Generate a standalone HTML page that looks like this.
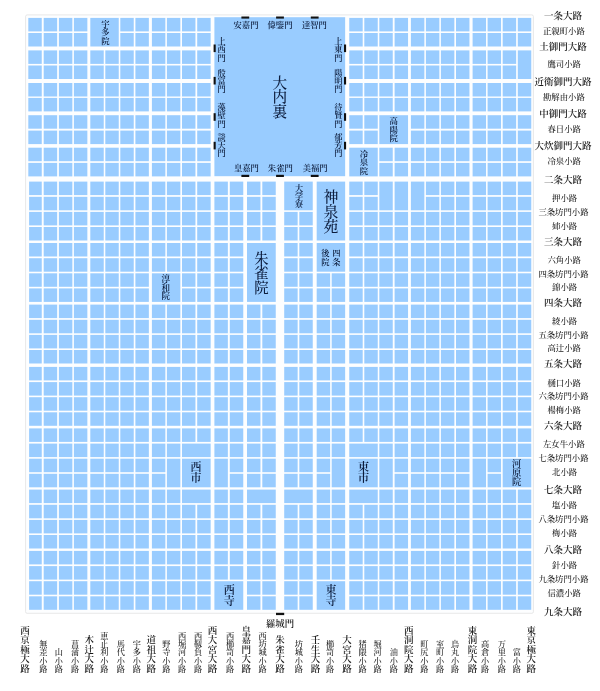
<!DOCTYPE html>
<html lang="ja">
<head>
<meta charset="utf-8">
<title>平安京</title>
<style>
html,body{margin:0;padding:0;background:#fff;}
body{width:600px;height:691px;overflow:hidden;}
svg{display:block;}
svg text{font-family:"Liberation Serif","Noto Serif CJK JP","Noto Serif CJK SC",serif;}
.w4{font-weight:400}.w5{font-weight:500}.w6{font-weight:600}
</style>
</head>
<body>
<svg width="600" height="691" viewBox="0 0 600 691" lang="ja">
<rect x="0" y="0" width="600" height="691" fill="#fff"/>
<rect x="25.6" y="14.9" width="507.8" height="598.4" rx="1.5" fill="#fdfeff" stroke="#dedede" stroke-width="0.7"/>
<g fill="#99ccff">
<rect x="214.40" y="17.20" width="130.75" height="159.00"/>
<rect x="90.30" y="17.90" width="28.45" height="28.60"/>
<rect x="379.30" y="115.20" width="28.75" height="28.90"/>
<rect x="349.25" y="147.70" width="28.50" height="28.70"/>
<rect x="517.80" y="50.40" width="13.45" height="28.60"/>
<rect x="284.20" y="181.60" width="28.55" height="28.70"/>
<rect x="316.70" y="181.60" width="28.45" height="58.90"/>
<rect x="379.30" y="181.60" width="13.45" height="28.70"/>
<rect x="394.60" y="181.60" width="13.45" height="28.70"/>
<rect x="410.90" y="181.60" width="13.45" height="28.70"/>
<rect x="316.70" y="243.00" width="28.45" height="28.70"/>
<rect x="247.00" y="243.00" width="28.75" height="58.90"/>
<rect x="151.90" y="273.30" width="28.45" height="28.60"/>
<rect x="182.00" y="458.70" width="28.65" height="28.60"/>
<rect x="182.00" y="443.60" width="28.65" height="13.50"/>
<rect x="182.00" y="489.60" width="28.65" height="13.50"/>
<rect x="166.90" y="458.70" width="13.45" height="28.60"/>
<rect x="214.40" y="458.70" width="13.45" height="28.60"/>
<rect x="349.25" y="458.70" width="28.50" height="28.60"/>
<rect x="349.25" y="443.60" width="28.50" height="13.50"/>
<rect x="349.25" y="489.60" width="28.50" height="13.50"/>
<rect x="331.70" y="458.70" width="13.45" height="28.60"/>
<rect x="379.30" y="458.70" width="13.45" height="28.60"/>
<rect x="472.60" y="458.70" width="13.45" height="28.60"/>
<rect x="502.70" y="458.70" width="28.55" height="28.60"/>
<rect x="247.00" y="489.60" width="28.75" height="13.50"/>
<rect x="284.20" y="489.60" width="28.55" height="13.50"/>
<rect x="214.40" y="581.20" width="28.85" height="28.60"/>
<rect x="316.70" y="581.20" width="28.45" height="28.60"/>
<rect x="28.30" y="17.90" width="13.45" height="13.50"/>
<rect x="28.30" y="33.00" width="13.45" height="13.50"/>
<rect x="28.30" y="50.40" width="13.45" height="13.50"/>
<rect x="28.30" y="65.50" width="13.45" height="13.50"/>
<rect x="28.30" y="83.00" width="13.45" height="13.50"/>
<rect x="28.30" y="97.90" width="13.45" height="13.50"/>
<rect x="28.30" y="115.20" width="13.45" height="13.50"/>
<rect x="28.30" y="130.60" width="13.45" height="13.50"/>
<rect x="28.30" y="147.70" width="13.45" height="13.50"/>
<rect x="28.30" y="162.90" width="13.45" height="13.50"/>
<rect x="29.10" y="181.60" width="12.65" height="13.50"/>
<rect x="29.10" y="196.80" width="12.65" height="13.50"/>
<rect x="29.10" y="211.90" width="12.65" height="13.50"/>
<rect x="29.10" y="227.00" width="12.65" height="13.50"/>
<rect x="29.10" y="243.00" width="12.65" height="13.50"/>
<rect x="29.10" y="258.20" width="12.65" height="13.50"/>
<rect x="29.10" y="273.30" width="12.65" height="13.50"/>
<rect x="29.10" y="288.40" width="12.65" height="13.50"/>
<rect x="29.10" y="304.60" width="12.65" height="13.50"/>
<rect x="29.10" y="319.80" width="12.65" height="13.50"/>
<rect x="29.10" y="334.90" width="12.65" height="13.50"/>
<rect x="29.10" y="350.00" width="12.65" height="13.50"/>
<rect x="29.10" y="366.90" width="12.65" height="13.50"/>
<rect x="29.10" y="382.10" width="12.65" height="13.50"/>
<rect x="29.10" y="397.20" width="12.65" height="13.50"/>
<rect x="29.10" y="412.30" width="12.65" height="13.50"/>
<rect x="29.10" y="428.40" width="12.65" height="13.50"/>
<rect x="29.10" y="443.60" width="12.65" height="13.50"/>
<rect x="29.10" y="458.70" width="12.65" height="13.50"/>
<rect x="29.10" y="473.80" width="12.65" height="13.50"/>
<rect x="29.10" y="489.60" width="12.65" height="13.50"/>
<rect x="29.10" y="504.80" width="12.65" height="13.50"/>
<rect x="29.10" y="519.90" width="12.65" height="13.50"/>
<rect x="29.10" y="535.00" width="12.65" height="13.50"/>
<rect x="29.10" y="550.90" width="12.65" height="13.50"/>
<rect x="29.10" y="566.10" width="12.65" height="13.50"/>
<rect x="29.10" y="581.20" width="12.65" height="13.50"/>
<rect x="29.10" y="596.30" width="12.65" height="13.50"/>
<rect x="43.70" y="17.90" width="13.45" height="13.50"/>
<rect x="43.70" y="33.00" width="13.45" height="13.50"/>
<rect x="43.70" y="50.40" width="13.45" height="13.50"/>
<rect x="43.70" y="65.50" width="13.45" height="13.50"/>
<rect x="43.70" y="83.00" width="13.45" height="13.50"/>
<rect x="43.70" y="97.90" width="13.45" height="13.50"/>
<rect x="43.70" y="115.20" width="13.45" height="13.50"/>
<rect x="43.70" y="130.60" width="13.45" height="13.50"/>
<rect x="43.70" y="147.70" width="13.45" height="13.50"/>
<rect x="43.70" y="162.90" width="13.45" height="13.50"/>
<rect x="43.70" y="181.60" width="13.45" height="13.50"/>
<rect x="43.70" y="196.80" width="13.45" height="13.50"/>
<rect x="43.70" y="211.90" width="13.45" height="13.50"/>
<rect x="43.70" y="227.00" width="13.45" height="13.50"/>
<rect x="43.70" y="243.00" width="13.45" height="13.50"/>
<rect x="43.70" y="258.20" width="13.45" height="13.50"/>
<rect x="43.70" y="273.30" width="13.45" height="13.50"/>
<rect x="43.70" y="288.40" width="13.45" height="13.50"/>
<rect x="43.70" y="304.60" width="13.45" height="13.50"/>
<rect x="43.70" y="319.80" width="13.45" height="13.50"/>
<rect x="43.70" y="334.90" width="13.45" height="13.50"/>
<rect x="43.70" y="350.00" width="13.45" height="13.50"/>
<rect x="43.70" y="366.90" width="13.45" height="13.50"/>
<rect x="43.70" y="382.10" width="13.45" height="13.50"/>
<rect x="43.70" y="397.20" width="13.45" height="13.50"/>
<rect x="43.70" y="412.30" width="13.45" height="13.50"/>
<rect x="43.70" y="428.40" width="13.45" height="13.50"/>
<rect x="43.70" y="443.60" width="13.45" height="13.50"/>
<rect x="43.70" y="458.70" width="13.45" height="13.50"/>
<rect x="43.70" y="473.80" width="13.45" height="13.50"/>
<rect x="43.70" y="489.60" width="13.45" height="13.50"/>
<rect x="43.70" y="504.80" width="13.45" height="13.50"/>
<rect x="43.70" y="519.90" width="13.45" height="13.50"/>
<rect x="43.70" y="535.00" width="13.45" height="13.50"/>
<rect x="43.70" y="550.90" width="13.45" height="13.50"/>
<rect x="43.70" y="566.10" width="13.45" height="13.50"/>
<rect x="43.70" y="581.20" width="13.45" height="13.50"/>
<rect x="43.70" y="596.30" width="13.45" height="13.50"/>
<rect x="58.90" y="17.90" width="13.45" height="13.50"/>
<rect x="58.90" y="33.00" width="13.45" height="13.50"/>
<rect x="58.90" y="50.40" width="13.45" height="13.50"/>
<rect x="58.90" y="65.50" width="13.45" height="13.50"/>
<rect x="58.90" y="83.00" width="13.45" height="13.50"/>
<rect x="58.90" y="97.90" width="13.45" height="13.50"/>
<rect x="58.90" y="115.20" width="13.45" height="13.50"/>
<rect x="58.90" y="130.60" width="13.45" height="13.50"/>
<rect x="58.90" y="147.70" width="13.45" height="13.50"/>
<rect x="58.90" y="162.90" width="13.45" height="13.50"/>
<rect x="58.90" y="181.60" width="13.45" height="13.50"/>
<rect x="58.90" y="196.80" width="13.45" height="13.50"/>
<rect x="58.90" y="211.90" width="13.45" height="13.50"/>
<rect x="58.90" y="227.00" width="13.45" height="13.50"/>
<rect x="58.90" y="243.00" width="13.45" height="13.50"/>
<rect x="58.90" y="258.20" width="13.45" height="13.50"/>
<rect x="58.90" y="273.30" width="13.45" height="13.50"/>
<rect x="58.90" y="288.40" width="13.45" height="13.50"/>
<rect x="58.90" y="304.60" width="13.45" height="13.50"/>
<rect x="58.90" y="319.80" width="13.45" height="13.50"/>
<rect x="58.90" y="334.90" width="13.45" height="13.50"/>
<rect x="58.90" y="350.00" width="13.45" height="13.50"/>
<rect x="58.90" y="366.90" width="13.45" height="13.50"/>
<rect x="58.90" y="382.10" width="13.45" height="13.50"/>
<rect x="58.90" y="397.20" width="13.45" height="13.50"/>
<rect x="58.90" y="412.30" width="13.45" height="13.50"/>
<rect x="58.90" y="428.40" width="13.45" height="13.50"/>
<rect x="58.90" y="443.60" width="13.45" height="13.50"/>
<rect x="58.90" y="458.70" width="13.45" height="13.50"/>
<rect x="58.90" y="473.80" width="13.45" height="13.50"/>
<rect x="58.90" y="489.60" width="13.45" height="13.50"/>
<rect x="58.90" y="504.80" width="13.45" height="13.50"/>
<rect x="58.90" y="519.90" width="13.45" height="13.50"/>
<rect x="58.90" y="535.00" width="13.45" height="13.50"/>
<rect x="58.90" y="550.90" width="13.45" height="13.50"/>
<rect x="58.90" y="566.10" width="13.45" height="13.50"/>
<rect x="58.90" y="581.20" width="13.45" height="13.50"/>
<rect x="58.90" y="596.30" width="13.45" height="13.50"/>
<rect x="73.90" y="17.90" width="13.45" height="13.50"/>
<rect x="73.90" y="33.00" width="13.45" height="13.50"/>
<rect x="73.90" y="50.40" width="13.45" height="13.50"/>
<rect x="73.90" y="65.50" width="13.45" height="13.50"/>
<rect x="73.90" y="83.00" width="13.45" height="13.50"/>
<rect x="73.90" y="97.90" width="13.45" height="13.50"/>
<rect x="73.90" y="115.20" width="13.45" height="13.50"/>
<rect x="73.90" y="130.60" width="13.45" height="13.50"/>
<rect x="73.90" y="147.70" width="13.45" height="13.50"/>
<rect x="73.90" y="162.90" width="13.45" height="13.50"/>
<rect x="73.90" y="181.60" width="13.45" height="13.50"/>
<rect x="73.90" y="196.80" width="13.45" height="13.50"/>
<rect x="73.90" y="211.90" width="13.45" height="13.50"/>
<rect x="73.90" y="227.00" width="13.45" height="13.50"/>
<rect x="73.90" y="243.00" width="13.45" height="13.50"/>
<rect x="73.90" y="258.20" width="13.45" height="13.50"/>
<rect x="73.90" y="273.30" width="13.45" height="13.50"/>
<rect x="73.90" y="288.40" width="13.45" height="13.50"/>
<rect x="73.90" y="304.60" width="13.45" height="13.50"/>
<rect x="73.90" y="319.80" width="13.45" height="13.50"/>
<rect x="73.90" y="334.90" width="13.45" height="13.50"/>
<rect x="73.90" y="350.00" width="13.45" height="13.50"/>
<rect x="73.90" y="366.90" width="13.45" height="13.50"/>
<rect x="73.90" y="382.10" width="13.45" height="13.50"/>
<rect x="73.90" y="397.20" width="13.45" height="13.50"/>
<rect x="73.90" y="412.30" width="13.45" height="13.50"/>
<rect x="73.90" y="428.40" width="13.45" height="13.50"/>
<rect x="73.90" y="443.60" width="13.45" height="13.50"/>
<rect x="73.90" y="458.70" width="13.45" height="13.50"/>
<rect x="73.90" y="473.80" width="13.45" height="13.50"/>
<rect x="73.90" y="489.60" width="13.45" height="13.50"/>
<rect x="73.90" y="504.80" width="13.45" height="13.50"/>
<rect x="73.90" y="519.90" width="13.45" height="13.50"/>
<rect x="73.90" y="535.00" width="13.45" height="13.50"/>
<rect x="73.90" y="550.90" width="13.45" height="13.50"/>
<rect x="73.90" y="566.10" width="13.45" height="13.50"/>
<rect x="73.90" y="581.20" width="13.45" height="13.50"/>
<rect x="73.90" y="596.30" width="13.45" height="13.50"/>
<rect x="90.30" y="50.40" width="13.45" height="13.50"/>
<rect x="90.30" y="65.50" width="13.45" height="13.50"/>
<rect x="90.30" y="83.00" width="13.45" height="13.50"/>
<rect x="90.30" y="97.90" width="13.45" height="13.50"/>
<rect x="90.30" y="115.20" width="13.45" height="13.50"/>
<rect x="90.30" y="130.60" width="13.45" height="13.50"/>
<rect x="90.30" y="147.70" width="13.45" height="13.50"/>
<rect x="90.30" y="162.90" width="13.45" height="13.50"/>
<rect x="90.30" y="181.60" width="13.45" height="13.50"/>
<rect x="90.30" y="196.80" width="13.45" height="13.50"/>
<rect x="90.30" y="211.90" width="13.45" height="13.50"/>
<rect x="90.30" y="227.00" width="13.45" height="13.50"/>
<rect x="90.30" y="243.00" width="13.45" height="13.50"/>
<rect x="90.30" y="258.20" width="13.45" height="13.50"/>
<rect x="90.30" y="273.30" width="13.45" height="13.50"/>
<rect x="90.30" y="288.40" width="13.45" height="13.50"/>
<rect x="90.30" y="304.60" width="13.45" height="13.50"/>
<rect x="90.30" y="319.80" width="13.45" height="13.50"/>
<rect x="90.30" y="334.90" width="13.45" height="13.50"/>
<rect x="90.30" y="350.00" width="13.45" height="13.50"/>
<rect x="90.30" y="366.90" width="13.45" height="13.50"/>
<rect x="90.30" y="382.10" width="13.45" height="13.50"/>
<rect x="90.30" y="397.20" width="13.45" height="13.50"/>
<rect x="90.30" y="412.30" width="13.45" height="13.50"/>
<rect x="90.30" y="428.40" width="13.45" height="13.50"/>
<rect x="90.30" y="443.60" width="13.45" height="13.50"/>
<rect x="90.30" y="458.70" width="13.45" height="13.50"/>
<rect x="90.30" y="473.80" width="13.45" height="13.50"/>
<rect x="90.30" y="489.60" width="13.45" height="13.50"/>
<rect x="90.30" y="504.80" width="13.45" height="13.50"/>
<rect x="90.30" y="519.90" width="13.45" height="13.50"/>
<rect x="90.30" y="535.00" width="13.45" height="13.50"/>
<rect x="90.30" y="550.90" width="13.45" height="13.50"/>
<rect x="90.30" y="566.10" width="13.45" height="13.50"/>
<rect x="90.30" y="581.20" width="13.45" height="13.50"/>
<rect x="90.30" y="596.30" width="13.45" height="13.50"/>
<rect x="105.30" y="50.40" width="13.45" height="13.50"/>
<rect x="105.30" y="65.50" width="13.45" height="13.50"/>
<rect x="105.30" y="83.00" width="13.45" height="13.50"/>
<rect x="105.30" y="97.90" width="13.45" height="13.50"/>
<rect x="105.30" y="115.20" width="13.45" height="13.50"/>
<rect x="105.30" y="130.60" width="13.45" height="13.50"/>
<rect x="105.30" y="147.70" width="13.45" height="13.50"/>
<rect x="105.30" y="162.90" width="13.45" height="13.50"/>
<rect x="105.30" y="181.60" width="13.45" height="13.50"/>
<rect x="105.30" y="196.80" width="13.45" height="13.50"/>
<rect x="105.30" y="211.90" width="13.45" height="13.50"/>
<rect x="105.30" y="227.00" width="13.45" height="13.50"/>
<rect x="105.30" y="243.00" width="13.45" height="13.50"/>
<rect x="105.30" y="258.20" width="13.45" height="13.50"/>
<rect x="105.30" y="273.30" width="13.45" height="13.50"/>
<rect x="105.30" y="288.40" width="13.45" height="13.50"/>
<rect x="105.30" y="304.60" width="13.45" height="13.50"/>
<rect x="105.30" y="319.80" width="13.45" height="13.50"/>
<rect x="105.30" y="334.90" width="13.45" height="13.50"/>
<rect x="105.30" y="350.00" width="13.45" height="13.50"/>
<rect x="105.30" y="366.90" width="13.45" height="13.50"/>
<rect x="105.30" y="382.10" width="13.45" height="13.50"/>
<rect x="105.30" y="397.20" width="13.45" height="13.50"/>
<rect x="105.30" y="412.30" width="13.45" height="13.50"/>
<rect x="105.30" y="428.40" width="13.45" height="13.50"/>
<rect x="105.30" y="443.60" width="13.45" height="13.50"/>
<rect x="105.30" y="458.70" width="13.45" height="13.50"/>
<rect x="105.30" y="473.80" width="13.45" height="13.50"/>
<rect x="105.30" y="489.60" width="13.45" height="13.50"/>
<rect x="105.30" y="504.80" width="13.45" height="13.50"/>
<rect x="105.30" y="519.90" width="13.45" height="13.50"/>
<rect x="105.30" y="535.00" width="13.45" height="13.50"/>
<rect x="105.30" y="550.90" width="13.45" height="13.50"/>
<rect x="105.30" y="566.10" width="13.45" height="13.50"/>
<rect x="105.30" y="581.20" width="13.45" height="13.50"/>
<rect x="105.30" y="596.30" width="13.45" height="13.50"/>
<rect x="120.30" y="17.90" width="13.45" height="13.50"/>
<rect x="120.30" y="33.00" width="13.45" height="13.50"/>
<rect x="120.30" y="50.40" width="13.45" height="13.50"/>
<rect x="120.30" y="65.50" width="13.45" height="13.50"/>
<rect x="120.30" y="83.00" width="13.45" height="13.50"/>
<rect x="120.30" y="97.90" width="13.45" height="13.50"/>
<rect x="120.30" y="115.20" width="13.45" height="13.50"/>
<rect x="120.30" y="130.60" width="13.45" height="13.50"/>
<rect x="120.30" y="147.70" width="13.45" height="13.50"/>
<rect x="120.30" y="162.90" width="13.45" height="13.50"/>
<rect x="120.30" y="181.60" width="13.45" height="13.50"/>
<rect x="120.30" y="196.80" width="13.45" height="13.50"/>
<rect x="120.30" y="211.90" width="13.45" height="13.50"/>
<rect x="120.30" y="227.00" width="13.45" height="13.50"/>
<rect x="120.30" y="243.00" width="13.45" height="13.50"/>
<rect x="120.30" y="258.20" width="13.45" height="13.50"/>
<rect x="120.30" y="273.30" width="13.45" height="13.50"/>
<rect x="120.30" y="288.40" width="13.45" height="13.50"/>
<rect x="120.30" y="304.60" width="13.45" height="13.50"/>
<rect x="120.30" y="319.80" width="13.45" height="13.50"/>
<rect x="120.30" y="334.90" width="13.45" height="13.50"/>
<rect x="120.30" y="350.00" width="13.45" height="13.50"/>
<rect x="120.30" y="366.90" width="13.45" height="13.50"/>
<rect x="120.30" y="382.10" width="13.45" height="13.50"/>
<rect x="120.30" y="397.20" width="13.45" height="13.50"/>
<rect x="120.30" y="412.30" width="13.45" height="13.50"/>
<rect x="120.30" y="428.40" width="13.45" height="13.50"/>
<rect x="120.30" y="443.60" width="13.45" height="13.50"/>
<rect x="120.30" y="458.70" width="13.45" height="13.50"/>
<rect x="120.30" y="473.80" width="13.45" height="13.50"/>
<rect x="120.30" y="489.60" width="13.45" height="13.50"/>
<rect x="120.30" y="504.80" width="13.45" height="13.50"/>
<rect x="120.30" y="519.90" width="13.45" height="13.50"/>
<rect x="120.30" y="535.00" width="13.45" height="13.50"/>
<rect x="120.30" y="550.90" width="13.45" height="13.50"/>
<rect x="120.30" y="566.10" width="13.45" height="13.50"/>
<rect x="120.30" y="581.20" width="13.45" height="13.50"/>
<rect x="120.30" y="596.30" width="13.45" height="13.50"/>
<rect x="135.40" y="17.90" width="13.45" height="13.50"/>
<rect x="135.40" y="33.00" width="13.45" height="13.50"/>
<rect x="135.40" y="50.40" width="13.45" height="13.50"/>
<rect x="135.40" y="65.50" width="13.45" height="13.50"/>
<rect x="135.40" y="83.00" width="13.45" height="13.50"/>
<rect x="135.40" y="97.90" width="13.45" height="13.50"/>
<rect x="135.40" y="115.20" width="13.45" height="13.50"/>
<rect x="135.40" y="130.60" width="13.45" height="13.50"/>
<rect x="135.40" y="147.70" width="13.45" height="13.50"/>
<rect x="135.40" y="162.90" width="13.45" height="13.50"/>
<rect x="135.40" y="181.60" width="13.45" height="13.50"/>
<rect x="135.40" y="196.80" width="13.45" height="13.50"/>
<rect x="135.40" y="211.90" width="13.45" height="13.50"/>
<rect x="135.40" y="227.00" width="13.45" height="13.50"/>
<rect x="135.40" y="243.00" width="13.45" height="13.50"/>
<rect x="135.40" y="258.20" width="13.45" height="13.50"/>
<rect x="135.40" y="273.30" width="13.45" height="13.50"/>
<rect x="135.40" y="288.40" width="13.45" height="13.50"/>
<rect x="135.40" y="304.60" width="13.45" height="13.50"/>
<rect x="135.40" y="319.80" width="13.45" height="13.50"/>
<rect x="135.40" y="334.90" width="13.45" height="13.50"/>
<rect x="135.40" y="350.00" width="13.45" height="13.50"/>
<rect x="135.40" y="366.90" width="13.45" height="13.50"/>
<rect x="135.40" y="382.10" width="13.45" height="13.50"/>
<rect x="135.40" y="397.20" width="13.45" height="13.50"/>
<rect x="135.40" y="412.30" width="13.45" height="13.50"/>
<rect x="135.40" y="428.40" width="13.45" height="13.50"/>
<rect x="135.40" y="443.60" width="13.45" height="13.50"/>
<rect x="135.40" y="458.70" width="13.45" height="13.50"/>
<rect x="135.40" y="473.80" width="13.45" height="13.50"/>
<rect x="135.40" y="489.60" width="13.45" height="13.50"/>
<rect x="135.40" y="504.80" width="13.45" height="13.50"/>
<rect x="135.40" y="519.90" width="13.45" height="13.50"/>
<rect x="135.40" y="535.00" width="13.45" height="13.50"/>
<rect x="135.40" y="550.90" width="13.45" height="13.50"/>
<rect x="135.40" y="566.10" width="13.45" height="13.50"/>
<rect x="135.40" y="581.20" width="13.45" height="13.50"/>
<rect x="135.40" y="596.30" width="13.45" height="13.50"/>
<rect x="151.90" y="17.90" width="13.45" height="13.50"/>
<rect x="151.90" y="33.00" width="13.45" height="13.50"/>
<rect x="151.90" y="50.40" width="13.45" height="13.50"/>
<rect x="151.90" y="65.50" width="13.45" height="13.50"/>
<rect x="151.90" y="83.00" width="13.45" height="13.50"/>
<rect x="151.90" y="97.90" width="13.45" height="13.50"/>
<rect x="151.90" y="115.20" width="13.45" height="13.50"/>
<rect x="151.90" y="130.60" width="13.45" height="13.50"/>
<rect x="151.90" y="147.70" width="13.45" height="13.50"/>
<rect x="151.90" y="162.90" width="13.45" height="13.50"/>
<rect x="151.90" y="181.60" width="13.45" height="13.50"/>
<rect x="151.90" y="196.80" width="13.45" height="13.50"/>
<rect x="151.90" y="211.90" width="13.45" height="13.50"/>
<rect x="151.90" y="227.00" width="13.45" height="13.50"/>
<rect x="151.90" y="243.00" width="13.45" height="13.50"/>
<rect x="151.90" y="258.20" width="13.45" height="13.50"/>
<rect x="151.90" y="304.60" width="13.45" height="13.50"/>
<rect x="151.90" y="319.80" width="13.45" height="13.50"/>
<rect x="151.90" y="334.90" width="13.45" height="13.50"/>
<rect x="151.90" y="350.00" width="13.45" height="13.50"/>
<rect x="151.90" y="366.90" width="13.45" height="13.50"/>
<rect x="151.90" y="382.10" width="13.45" height="13.50"/>
<rect x="151.90" y="397.20" width="13.45" height="13.50"/>
<rect x="151.90" y="412.30" width="13.45" height="13.50"/>
<rect x="151.90" y="428.40" width="13.45" height="13.50"/>
<rect x="151.90" y="443.60" width="13.45" height="13.50"/>
<rect x="151.90" y="458.70" width="13.45" height="13.50"/>
<rect x="151.90" y="473.80" width="13.45" height="13.50"/>
<rect x="151.90" y="489.60" width="13.45" height="13.50"/>
<rect x="151.90" y="504.80" width="13.45" height="13.50"/>
<rect x="151.90" y="519.90" width="13.45" height="13.50"/>
<rect x="151.90" y="535.00" width="13.45" height="13.50"/>
<rect x="151.90" y="550.90" width="13.45" height="13.50"/>
<rect x="151.90" y="566.10" width="13.45" height="13.50"/>
<rect x="151.90" y="581.20" width="13.45" height="13.50"/>
<rect x="151.90" y="596.30" width="13.45" height="13.50"/>
<rect x="166.90" y="17.90" width="13.45" height="13.50"/>
<rect x="166.90" y="33.00" width="13.45" height="13.50"/>
<rect x="166.90" y="50.40" width="13.45" height="13.50"/>
<rect x="166.90" y="65.50" width="13.45" height="13.50"/>
<rect x="166.90" y="83.00" width="13.45" height="13.50"/>
<rect x="166.90" y="97.90" width="13.45" height="13.50"/>
<rect x="166.90" y="115.20" width="13.45" height="13.50"/>
<rect x="166.90" y="130.60" width="13.45" height="13.50"/>
<rect x="166.90" y="147.70" width="13.45" height="13.50"/>
<rect x="166.90" y="162.90" width="13.45" height="13.50"/>
<rect x="166.90" y="181.60" width="13.45" height="13.50"/>
<rect x="166.90" y="196.80" width="13.45" height="13.50"/>
<rect x="166.90" y="211.90" width="13.45" height="13.50"/>
<rect x="166.90" y="227.00" width="13.45" height="13.50"/>
<rect x="166.90" y="243.00" width="13.45" height="13.50"/>
<rect x="166.90" y="258.20" width="13.45" height="13.50"/>
<rect x="166.90" y="304.60" width="13.45" height="13.50"/>
<rect x="166.90" y="319.80" width="13.45" height="13.50"/>
<rect x="166.90" y="334.90" width="13.45" height="13.50"/>
<rect x="166.90" y="350.00" width="13.45" height="13.50"/>
<rect x="166.90" y="366.90" width="13.45" height="13.50"/>
<rect x="166.90" y="382.10" width="13.45" height="13.50"/>
<rect x="166.90" y="397.20" width="13.45" height="13.50"/>
<rect x="166.90" y="412.30" width="13.45" height="13.50"/>
<rect x="166.90" y="428.40" width="13.45" height="13.50"/>
<rect x="166.90" y="443.60" width="13.45" height="13.50"/>
<rect x="166.90" y="489.60" width="13.45" height="13.50"/>
<rect x="166.90" y="504.80" width="13.45" height="13.50"/>
<rect x="166.90" y="519.90" width="13.45" height="13.50"/>
<rect x="166.90" y="535.00" width="13.45" height="13.50"/>
<rect x="166.90" y="550.90" width="13.45" height="13.50"/>
<rect x="166.90" y="566.10" width="13.45" height="13.50"/>
<rect x="166.90" y="581.20" width="13.45" height="13.50"/>
<rect x="166.90" y="596.30" width="13.45" height="13.50"/>
<rect x="182.00" y="17.90" width="13.45" height="13.50"/>
<rect x="182.00" y="33.00" width="13.45" height="13.50"/>
<rect x="182.00" y="50.40" width="13.45" height="13.50"/>
<rect x="182.00" y="65.50" width="13.45" height="13.50"/>
<rect x="182.00" y="83.00" width="13.45" height="13.50"/>
<rect x="182.00" y="97.90" width="13.45" height="13.50"/>
<rect x="182.00" y="115.20" width="13.45" height="13.50"/>
<rect x="182.00" y="130.60" width="13.45" height="13.50"/>
<rect x="182.00" y="147.70" width="13.45" height="13.50"/>
<rect x="182.00" y="162.90" width="13.45" height="13.50"/>
<rect x="182.00" y="181.60" width="13.45" height="13.50"/>
<rect x="182.00" y="196.80" width="13.45" height="13.50"/>
<rect x="182.00" y="211.90" width="13.45" height="13.50"/>
<rect x="182.00" y="227.00" width="13.45" height="13.50"/>
<rect x="182.00" y="243.00" width="13.45" height="13.50"/>
<rect x="182.00" y="258.20" width="13.45" height="13.50"/>
<rect x="182.00" y="273.30" width="13.45" height="13.50"/>
<rect x="182.00" y="288.40" width="13.45" height="13.50"/>
<rect x="182.00" y="304.60" width="13.45" height="13.50"/>
<rect x="182.00" y="319.80" width="13.45" height="13.50"/>
<rect x="182.00" y="334.90" width="13.45" height="13.50"/>
<rect x="182.00" y="350.00" width="13.45" height="13.50"/>
<rect x="182.00" y="366.90" width="13.45" height="13.50"/>
<rect x="182.00" y="382.10" width="13.45" height="13.50"/>
<rect x="182.00" y="397.20" width="13.45" height="13.50"/>
<rect x="182.00" y="412.30" width="13.45" height="13.50"/>
<rect x="182.00" y="428.40" width="13.45" height="13.50"/>
<rect x="182.00" y="504.80" width="13.45" height="13.50"/>
<rect x="182.00" y="519.90" width="13.45" height="13.50"/>
<rect x="182.00" y="535.00" width="13.45" height="13.50"/>
<rect x="182.00" y="550.90" width="13.45" height="13.50"/>
<rect x="182.00" y="566.10" width="13.45" height="13.50"/>
<rect x="182.00" y="581.20" width="13.45" height="13.50"/>
<rect x="182.00" y="596.30" width="13.45" height="13.50"/>
<rect x="197.20" y="17.90" width="13.45" height="13.50"/>
<rect x="197.20" y="33.00" width="13.45" height="13.50"/>
<rect x="197.20" y="50.40" width="13.45" height="13.50"/>
<rect x="197.20" y="65.50" width="13.45" height="13.50"/>
<rect x="197.20" y="83.00" width="13.45" height="13.50"/>
<rect x="197.20" y="97.90" width="13.45" height="13.50"/>
<rect x="197.20" y="115.20" width="13.45" height="13.50"/>
<rect x="197.20" y="130.60" width="13.45" height="13.50"/>
<rect x="197.20" y="147.70" width="13.45" height="13.50"/>
<rect x="197.20" y="162.90" width="13.45" height="13.50"/>
<rect x="197.20" y="181.60" width="13.45" height="13.50"/>
<rect x="197.20" y="196.80" width="13.45" height="13.50"/>
<rect x="197.20" y="211.90" width="13.45" height="13.50"/>
<rect x="197.20" y="227.00" width="13.45" height="13.50"/>
<rect x="197.20" y="243.00" width="13.45" height="13.50"/>
<rect x="197.20" y="258.20" width="13.45" height="13.50"/>
<rect x="197.20" y="273.30" width="13.45" height="13.50"/>
<rect x="197.20" y="288.40" width="13.45" height="13.50"/>
<rect x="197.20" y="304.60" width="13.45" height="13.50"/>
<rect x="197.20" y="319.80" width="13.45" height="13.50"/>
<rect x="197.20" y="334.90" width="13.45" height="13.50"/>
<rect x="197.20" y="350.00" width="13.45" height="13.50"/>
<rect x="197.20" y="366.90" width="13.45" height="13.50"/>
<rect x="197.20" y="382.10" width="13.45" height="13.50"/>
<rect x="197.20" y="397.20" width="13.45" height="13.50"/>
<rect x="197.20" y="412.30" width="13.45" height="13.50"/>
<rect x="197.20" y="428.40" width="13.45" height="13.50"/>
<rect x="197.20" y="504.80" width="13.45" height="13.50"/>
<rect x="197.20" y="519.90" width="13.45" height="13.50"/>
<rect x="197.20" y="535.00" width="13.45" height="13.50"/>
<rect x="197.20" y="550.90" width="13.45" height="13.50"/>
<rect x="197.20" y="566.10" width="13.45" height="13.50"/>
<rect x="197.20" y="581.20" width="13.45" height="13.50"/>
<rect x="197.20" y="596.30" width="13.45" height="13.50"/>
<rect x="214.40" y="181.60" width="13.45" height="13.50"/>
<rect x="214.40" y="196.80" width="13.45" height="13.50"/>
<rect x="214.40" y="211.90" width="13.45" height="13.50"/>
<rect x="214.40" y="227.00" width="13.45" height="13.50"/>
<rect x="214.40" y="243.00" width="13.45" height="13.50"/>
<rect x="214.40" y="258.20" width="13.45" height="13.50"/>
<rect x="214.40" y="273.30" width="13.45" height="13.50"/>
<rect x="214.40" y="288.40" width="13.45" height="13.50"/>
<rect x="214.40" y="304.60" width="13.45" height="13.50"/>
<rect x="214.40" y="319.80" width="13.45" height="13.50"/>
<rect x="214.40" y="334.90" width="13.45" height="13.50"/>
<rect x="214.40" y="350.00" width="13.45" height="13.50"/>
<rect x="214.40" y="366.90" width="13.45" height="13.50"/>
<rect x="214.40" y="382.10" width="13.45" height="13.50"/>
<rect x="214.40" y="397.20" width="13.45" height="13.50"/>
<rect x="214.40" y="412.30" width="13.45" height="13.50"/>
<rect x="214.40" y="428.40" width="13.45" height="13.50"/>
<rect x="214.40" y="443.60" width="13.45" height="13.50"/>
<rect x="214.40" y="489.60" width="13.45" height="13.50"/>
<rect x="214.40" y="504.80" width="13.45" height="13.50"/>
<rect x="214.40" y="519.90" width="13.45" height="13.50"/>
<rect x="214.40" y="535.00" width="13.45" height="13.50"/>
<rect x="214.40" y="550.90" width="13.45" height="13.50"/>
<rect x="214.40" y="566.10" width="13.45" height="13.50"/>
<rect x="229.80" y="181.60" width="13.45" height="13.50"/>
<rect x="229.80" y="196.80" width="13.45" height="13.50"/>
<rect x="229.80" y="211.90" width="13.45" height="13.50"/>
<rect x="229.80" y="227.00" width="13.45" height="13.50"/>
<rect x="229.80" y="243.00" width="13.45" height="13.50"/>
<rect x="229.80" y="258.20" width="13.45" height="13.50"/>
<rect x="229.80" y="273.30" width="13.45" height="13.50"/>
<rect x="229.80" y="288.40" width="13.45" height="13.50"/>
<rect x="229.80" y="304.60" width="13.45" height="13.50"/>
<rect x="229.80" y="319.80" width="13.45" height="13.50"/>
<rect x="229.80" y="334.90" width="13.45" height="13.50"/>
<rect x="229.80" y="350.00" width="13.45" height="13.50"/>
<rect x="229.80" y="366.90" width="13.45" height="13.50"/>
<rect x="229.80" y="382.10" width="13.45" height="13.50"/>
<rect x="229.80" y="397.20" width="13.45" height="13.50"/>
<rect x="229.80" y="412.30" width="13.45" height="13.50"/>
<rect x="229.80" y="428.40" width="13.45" height="13.50"/>
<rect x="229.80" y="443.60" width="13.45" height="13.50"/>
<rect x="229.80" y="458.70" width="13.45" height="13.50"/>
<rect x="229.80" y="473.80" width="13.45" height="13.50"/>
<rect x="229.80" y="489.60" width="13.45" height="13.50"/>
<rect x="229.80" y="504.80" width="13.45" height="13.50"/>
<rect x="229.80" y="519.90" width="13.45" height="13.50"/>
<rect x="229.80" y="535.00" width="13.45" height="13.50"/>
<rect x="229.80" y="550.90" width="13.45" height="13.50"/>
<rect x="229.80" y="566.10" width="13.45" height="13.50"/>
<rect x="247.00" y="181.60" width="13.45" height="13.50"/>
<rect x="247.00" y="196.80" width="13.45" height="13.50"/>
<rect x="247.00" y="211.90" width="13.45" height="13.50"/>
<rect x="247.00" y="227.00" width="13.45" height="13.50"/>
<rect x="247.00" y="304.60" width="13.45" height="13.50"/>
<rect x="247.00" y="319.80" width="13.45" height="13.50"/>
<rect x="247.00" y="334.90" width="13.45" height="13.50"/>
<rect x="247.00" y="350.00" width="13.45" height="13.50"/>
<rect x="247.00" y="366.90" width="13.45" height="13.50"/>
<rect x="247.00" y="382.10" width="13.45" height="13.50"/>
<rect x="247.00" y="397.20" width="13.45" height="13.50"/>
<rect x="247.00" y="412.30" width="13.45" height="13.50"/>
<rect x="247.00" y="428.40" width="13.45" height="13.50"/>
<rect x="247.00" y="443.60" width="13.45" height="13.50"/>
<rect x="247.00" y="458.70" width="13.45" height="13.50"/>
<rect x="247.00" y="473.80" width="13.45" height="13.50"/>
<rect x="247.00" y="504.80" width="13.45" height="13.50"/>
<rect x="247.00" y="519.90" width="13.45" height="13.50"/>
<rect x="247.00" y="535.00" width="13.45" height="13.50"/>
<rect x="247.00" y="550.90" width="13.45" height="13.50"/>
<rect x="247.00" y="566.10" width="13.45" height="13.50"/>
<rect x="247.00" y="581.20" width="13.45" height="13.50"/>
<rect x="247.00" y="596.30" width="13.45" height="13.50"/>
<rect x="262.30" y="181.60" width="13.45" height="13.50"/>
<rect x="262.30" y="196.80" width="13.45" height="13.50"/>
<rect x="262.30" y="211.90" width="13.45" height="13.50"/>
<rect x="262.30" y="227.00" width="13.45" height="13.50"/>
<rect x="262.30" y="304.60" width="13.45" height="13.50"/>
<rect x="262.30" y="319.80" width="13.45" height="13.50"/>
<rect x="262.30" y="334.90" width="13.45" height="13.50"/>
<rect x="262.30" y="350.00" width="13.45" height="13.50"/>
<rect x="262.30" y="366.90" width="13.45" height="13.50"/>
<rect x="262.30" y="382.10" width="13.45" height="13.50"/>
<rect x="262.30" y="397.20" width="13.45" height="13.50"/>
<rect x="262.30" y="412.30" width="13.45" height="13.50"/>
<rect x="262.30" y="428.40" width="13.45" height="13.50"/>
<rect x="262.30" y="443.60" width="13.45" height="13.50"/>
<rect x="262.30" y="458.70" width="13.45" height="13.50"/>
<rect x="262.30" y="473.80" width="13.45" height="13.50"/>
<rect x="262.30" y="504.80" width="13.45" height="13.50"/>
<rect x="262.30" y="519.90" width="13.45" height="13.50"/>
<rect x="262.30" y="535.00" width="13.45" height="13.50"/>
<rect x="262.30" y="550.90" width="13.45" height="13.50"/>
<rect x="262.30" y="566.10" width="13.45" height="13.50"/>
<rect x="262.30" y="581.20" width="13.45" height="13.50"/>
<rect x="262.30" y="596.30" width="13.45" height="13.50"/>
<rect x="284.20" y="211.90" width="13.45" height="13.50"/>
<rect x="284.20" y="227.00" width="13.45" height="13.50"/>
<rect x="284.20" y="243.00" width="13.45" height="13.50"/>
<rect x="284.20" y="258.20" width="13.45" height="13.50"/>
<rect x="284.20" y="273.30" width="13.45" height="13.50"/>
<rect x="284.20" y="288.40" width="13.45" height="13.50"/>
<rect x="284.20" y="304.60" width="13.45" height="13.50"/>
<rect x="284.20" y="319.80" width="13.45" height="13.50"/>
<rect x="284.20" y="334.90" width="13.45" height="13.50"/>
<rect x="284.20" y="350.00" width="13.45" height="13.50"/>
<rect x="284.20" y="366.90" width="13.45" height="13.50"/>
<rect x="284.20" y="382.10" width="13.45" height="13.50"/>
<rect x="284.20" y="397.20" width="13.45" height="13.50"/>
<rect x="284.20" y="412.30" width="13.45" height="13.50"/>
<rect x="284.20" y="428.40" width="13.45" height="13.50"/>
<rect x="284.20" y="443.60" width="13.45" height="13.50"/>
<rect x="284.20" y="458.70" width="13.45" height="13.50"/>
<rect x="284.20" y="473.80" width="13.45" height="13.50"/>
<rect x="284.20" y="504.80" width="13.45" height="13.50"/>
<rect x="284.20" y="519.90" width="13.45" height="13.50"/>
<rect x="284.20" y="535.00" width="13.45" height="13.50"/>
<rect x="284.20" y="550.90" width="13.45" height="13.50"/>
<rect x="284.20" y="566.10" width="13.45" height="13.50"/>
<rect x="284.20" y="581.20" width="13.45" height="13.50"/>
<rect x="284.20" y="596.30" width="13.45" height="13.50"/>
<rect x="299.30" y="211.90" width="13.45" height="13.50"/>
<rect x="299.30" y="227.00" width="13.45" height="13.50"/>
<rect x="299.30" y="243.00" width="13.45" height="13.50"/>
<rect x="299.30" y="258.20" width="13.45" height="13.50"/>
<rect x="299.30" y="273.30" width="13.45" height="13.50"/>
<rect x="299.30" y="288.40" width="13.45" height="13.50"/>
<rect x="299.30" y="304.60" width="13.45" height="13.50"/>
<rect x="299.30" y="319.80" width="13.45" height="13.50"/>
<rect x="299.30" y="334.90" width="13.45" height="13.50"/>
<rect x="299.30" y="350.00" width="13.45" height="13.50"/>
<rect x="299.30" y="366.90" width="13.45" height="13.50"/>
<rect x="299.30" y="382.10" width="13.45" height="13.50"/>
<rect x="299.30" y="397.20" width="13.45" height="13.50"/>
<rect x="299.30" y="412.30" width="13.45" height="13.50"/>
<rect x="299.30" y="428.40" width="13.45" height="13.50"/>
<rect x="299.30" y="443.60" width="13.45" height="13.50"/>
<rect x="299.30" y="458.70" width="13.45" height="13.50"/>
<rect x="299.30" y="473.80" width="13.45" height="13.50"/>
<rect x="299.30" y="504.80" width="13.45" height="13.50"/>
<rect x="299.30" y="519.90" width="13.45" height="13.50"/>
<rect x="299.30" y="535.00" width="13.45" height="13.50"/>
<rect x="299.30" y="550.90" width="13.45" height="13.50"/>
<rect x="299.30" y="566.10" width="13.45" height="13.50"/>
<rect x="299.30" y="581.20" width="13.45" height="13.50"/>
<rect x="299.30" y="596.30" width="13.45" height="13.50"/>
<rect x="316.70" y="273.30" width="13.45" height="13.50"/>
<rect x="316.70" y="288.40" width="13.45" height="13.50"/>
<rect x="316.70" y="304.60" width="13.45" height="13.50"/>
<rect x="316.70" y="319.80" width="13.45" height="13.50"/>
<rect x="316.70" y="334.90" width="13.45" height="13.50"/>
<rect x="316.70" y="350.00" width="13.45" height="13.50"/>
<rect x="316.70" y="366.90" width="13.45" height="13.50"/>
<rect x="316.70" y="382.10" width="13.45" height="13.50"/>
<rect x="316.70" y="397.20" width="13.45" height="13.50"/>
<rect x="316.70" y="412.30" width="13.45" height="13.50"/>
<rect x="316.70" y="428.40" width="13.45" height="13.50"/>
<rect x="316.70" y="443.60" width="13.45" height="13.50"/>
<rect x="316.70" y="458.70" width="13.45" height="13.50"/>
<rect x="316.70" y="473.80" width="13.45" height="13.50"/>
<rect x="316.70" y="489.60" width="13.45" height="13.50"/>
<rect x="316.70" y="504.80" width="13.45" height="13.50"/>
<rect x="316.70" y="519.90" width="13.45" height="13.50"/>
<rect x="316.70" y="535.00" width="13.45" height="13.50"/>
<rect x="316.70" y="550.90" width="13.45" height="13.50"/>
<rect x="316.70" y="566.10" width="13.45" height="13.50"/>
<rect x="331.70" y="273.30" width="13.45" height="13.50"/>
<rect x="331.70" y="288.40" width="13.45" height="13.50"/>
<rect x="331.70" y="304.60" width="13.45" height="13.50"/>
<rect x="331.70" y="319.80" width="13.45" height="13.50"/>
<rect x="331.70" y="334.90" width="13.45" height="13.50"/>
<rect x="331.70" y="350.00" width="13.45" height="13.50"/>
<rect x="331.70" y="366.90" width="13.45" height="13.50"/>
<rect x="331.70" y="382.10" width="13.45" height="13.50"/>
<rect x="331.70" y="397.20" width="13.45" height="13.50"/>
<rect x="331.70" y="412.30" width="13.45" height="13.50"/>
<rect x="331.70" y="428.40" width="13.45" height="13.50"/>
<rect x="331.70" y="443.60" width="13.45" height="13.50"/>
<rect x="331.70" y="489.60" width="13.45" height="13.50"/>
<rect x="331.70" y="504.80" width="13.45" height="13.50"/>
<rect x="331.70" y="519.90" width="13.45" height="13.50"/>
<rect x="331.70" y="535.00" width="13.45" height="13.50"/>
<rect x="331.70" y="550.90" width="13.45" height="13.50"/>
<rect x="331.70" y="566.10" width="13.45" height="13.50"/>
<rect x="349.25" y="17.90" width="13.45" height="13.50"/>
<rect x="349.25" y="33.00" width="13.45" height="13.50"/>
<rect x="349.25" y="50.40" width="13.45" height="13.50"/>
<rect x="349.25" y="65.50" width="13.45" height="13.50"/>
<rect x="349.25" y="83.00" width="13.45" height="13.50"/>
<rect x="349.25" y="97.90" width="13.45" height="13.50"/>
<rect x="349.25" y="115.20" width="13.45" height="13.50"/>
<rect x="349.25" y="130.60" width="13.45" height="13.50"/>
<rect x="349.25" y="181.60" width="13.45" height="13.50"/>
<rect x="349.25" y="196.80" width="13.45" height="13.50"/>
<rect x="349.25" y="211.90" width="13.45" height="13.50"/>
<rect x="349.25" y="227.00" width="13.45" height="13.50"/>
<rect x="349.25" y="243.00" width="13.45" height="13.50"/>
<rect x="349.25" y="258.20" width="13.45" height="13.50"/>
<rect x="349.25" y="273.30" width="13.45" height="13.50"/>
<rect x="349.25" y="288.40" width="13.45" height="13.50"/>
<rect x="349.25" y="304.60" width="13.45" height="13.50"/>
<rect x="349.25" y="319.80" width="13.45" height="13.50"/>
<rect x="349.25" y="334.90" width="13.45" height="13.50"/>
<rect x="349.25" y="350.00" width="13.45" height="13.50"/>
<rect x="349.25" y="366.90" width="13.45" height="13.50"/>
<rect x="349.25" y="382.10" width="13.45" height="13.50"/>
<rect x="349.25" y="397.20" width="13.45" height="13.50"/>
<rect x="349.25" y="412.30" width="13.45" height="13.50"/>
<rect x="349.25" y="428.40" width="13.45" height="13.50"/>
<rect x="349.25" y="504.80" width="13.45" height="13.50"/>
<rect x="349.25" y="519.90" width="13.45" height="13.50"/>
<rect x="349.25" y="535.00" width="13.45" height="13.50"/>
<rect x="349.25" y="550.90" width="13.45" height="13.50"/>
<rect x="349.25" y="566.10" width="13.45" height="13.50"/>
<rect x="349.25" y="581.20" width="13.45" height="13.50"/>
<rect x="349.25" y="596.30" width="13.45" height="13.50"/>
<rect x="364.30" y="17.90" width="13.45" height="13.50"/>
<rect x="364.30" y="33.00" width="13.45" height="13.50"/>
<rect x="364.30" y="50.40" width="13.45" height="13.50"/>
<rect x="364.30" y="65.50" width="13.45" height="13.50"/>
<rect x="364.30" y="83.00" width="13.45" height="13.50"/>
<rect x="364.30" y="97.90" width="13.45" height="13.50"/>
<rect x="364.30" y="115.20" width="13.45" height="13.50"/>
<rect x="364.30" y="130.60" width="13.45" height="13.50"/>
<rect x="364.30" y="181.60" width="13.45" height="13.50"/>
<rect x="364.30" y="196.80" width="13.45" height="13.50"/>
<rect x="364.30" y="211.90" width="13.45" height="13.50"/>
<rect x="364.30" y="227.00" width="13.45" height="13.50"/>
<rect x="364.30" y="243.00" width="13.45" height="13.50"/>
<rect x="364.30" y="258.20" width="13.45" height="13.50"/>
<rect x="364.30" y="273.30" width="13.45" height="13.50"/>
<rect x="364.30" y="288.40" width="13.45" height="13.50"/>
<rect x="364.30" y="304.60" width="13.45" height="13.50"/>
<rect x="364.30" y="319.80" width="13.45" height="13.50"/>
<rect x="364.30" y="334.90" width="13.45" height="13.50"/>
<rect x="364.30" y="350.00" width="13.45" height="13.50"/>
<rect x="364.30" y="366.90" width="13.45" height="13.50"/>
<rect x="364.30" y="382.10" width="13.45" height="13.50"/>
<rect x="364.30" y="397.20" width="13.45" height="13.50"/>
<rect x="364.30" y="412.30" width="13.45" height="13.50"/>
<rect x="364.30" y="428.40" width="13.45" height="13.50"/>
<rect x="364.30" y="504.80" width="13.45" height="13.50"/>
<rect x="364.30" y="519.90" width="13.45" height="13.50"/>
<rect x="364.30" y="535.00" width="13.45" height="13.50"/>
<rect x="364.30" y="550.90" width="13.45" height="13.50"/>
<rect x="364.30" y="566.10" width="13.45" height="13.50"/>
<rect x="364.30" y="581.20" width="13.45" height="13.50"/>
<rect x="364.30" y="596.30" width="13.45" height="13.50"/>
<rect x="379.30" y="17.90" width="13.45" height="13.50"/>
<rect x="379.30" y="33.00" width="13.45" height="13.50"/>
<rect x="379.30" y="50.40" width="13.45" height="13.50"/>
<rect x="379.30" y="65.50" width="13.45" height="13.50"/>
<rect x="379.30" y="83.00" width="13.45" height="13.50"/>
<rect x="379.30" y="97.90" width="13.45" height="13.50"/>
<rect x="379.30" y="147.70" width="13.45" height="13.50"/>
<rect x="379.30" y="162.90" width="13.45" height="13.50"/>
<rect x="379.30" y="211.90" width="13.45" height="13.50"/>
<rect x="379.30" y="227.00" width="13.45" height="13.50"/>
<rect x="379.30" y="243.00" width="13.45" height="13.50"/>
<rect x="379.30" y="258.20" width="13.45" height="13.50"/>
<rect x="379.30" y="273.30" width="13.45" height="13.50"/>
<rect x="379.30" y="288.40" width="13.45" height="13.50"/>
<rect x="379.30" y="304.60" width="13.45" height="13.50"/>
<rect x="379.30" y="319.80" width="13.45" height="13.50"/>
<rect x="379.30" y="334.90" width="13.45" height="13.50"/>
<rect x="379.30" y="350.00" width="13.45" height="13.50"/>
<rect x="379.30" y="366.90" width="13.45" height="13.50"/>
<rect x="379.30" y="382.10" width="13.45" height="13.50"/>
<rect x="379.30" y="397.20" width="13.45" height="13.50"/>
<rect x="379.30" y="412.30" width="13.45" height="13.50"/>
<rect x="379.30" y="428.40" width="13.45" height="13.50"/>
<rect x="379.30" y="443.60" width="13.45" height="13.50"/>
<rect x="379.30" y="489.60" width="13.45" height="13.50"/>
<rect x="379.30" y="504.80" width="13.45" height="13.50"/>
<rect x="379.30" y="519.90" width="13.45" height="13.50"/>
<rect x="379.30" y="535.00" width="13.45" height="13.50"/>
<rect x="379.30" y="550.90" width="13.45" height="13.50"/>
<rect x="379.30" y="566.10" width="13.45" height="13.50"/>
<rect x="379.30" y="581.20" width="13.45" height="13.50"/>
<rect x="379.30" y="596.30" width="13.45" height="13.50"/>
<rect x="394.60" y="17.90" width="13.45" height="13.50"/>
<rect x="394.60" y="33.00" width="13.45" height="13.50"/>
<rect x="394.60" y="50.40" width="13.45" height="13.50"/>
<rect x="394.60" y="65.50" width="13.45" height="13.50"/>
<rect x="394.60" y="83.00" width="13.45" height="13.50"/>
<rect x="394.60" y="97.90" width="13.45" height="13.50"/>
<rect x="394.60" y="147.70" width="13.45" height="13.50"/>
<rect x="394.60" y="162.90" width="13.45" height="13.50"/>
<rect x="394.60" y="211.90" width="13.45" height="13.50"/>
<rect x="394.60" y="227.00" width="13.45" height="13.50"/>
<rect x="394.60" y="243.00" width="13.45" height="13.50"/>
<rect x="394.60" y="258.20" width="13.45" height="13.50"/>
<rect x="394.60" y="273.30" width="13.45" height="13.50"/>
<rect x="394.60" y="288.40" width="13.45" height="13.50"/>
<rect x="394.60" y="304.60" width="13.45" height="13.50"/>
<rect x="394.60" y="319.80" width="13.45" height="13.50"/>
<rect x="394.60" y="334.90" width="13.45" height="13.50"/>
<rect x="394.60" y="350.00" width="13.45" height="13.50"/>
<rect x="394.60" y="366.90" width="13.45" height="13.50"/>
<rect x="394.60" y="382.10" width="13.45" height="13.50"/>
<rect x="394.60" y="397.20" width="13.45" height="13.50"/>
<rect x="394.60" y="412.30" width="13.45" height="13.50"/>
<rect x="394.60" y="428.40" width="13.45" height="13.50"/>
<rect x="394.60" y="443.60" width="13.45" height="13.50"/>
<rect x="394.60" y="458.70" width="13.45" height="13.50"/>
<rect x="394.60" y="473.80" width="13.45" height="13.50"/>
<rect x="394.60" y="489.60" width="13.45" height="13.50"/>
<rect x="394.60" y="504.80" width="13.45" height="13.50"/>
<rect x="394.60" y="519.90" width="13.45" height="13.50"/>
<rect x="394.60" y="535.00" width="13.45" height="13.50"/>
<rect x="394.60" y="550.90" width="13.45" height="13.50"/>
<rect x="394.60" y="566.10" width="13.45" height="13.50"/>
<rect x="394.60" y="581.20" width="13.45" height="13.50"/>
<rect x="394.60" y="596.30" width="13.45" height="13.50"/>
<rect x="410.90" y="17.90" width="13.45" height="13.50"/>
<rect x="410.90" y="33.00" width="13.45" height="13.50"/>
<rect x="410.90" y="50.40" width="13.45" height="13.50"/>
<rect x="410.90" y="65.50" width="13.45" height="13.50"/>
<rect x="410.90" y="83.00" width="13.45" height="13.50"/>
<rect x="410.90" y="97.90" width="13.45" height="13.50"/>
<rect x="410.90" y="115.20" width="13.45" height="13.50"/>
<rect x="410.90" y="130.60" width="13.45" height="13.50"/>
<rect x="410.90" y="147.70" width="13.45" height="13.50"/>
<rect x="410.90" y="162.90" width="13.45" height="13.50"/>
<rect x="410.90" y="211.90" width="13.45" height="13.50"/>
<rect x="410.90" y="227.00" width="13.45" height="13.50"/>
<rect x="410.90" y="243.00" width="13.45" height="13.50"/>
<rect x="410.90" y="258.20" width="13.45" height="13.50"/>
<rect x="410.90" y="273.30" width="13.45" height="13.50"/>
<rect x="410.90" y="288.40" width="13.45" height="13.50"/>
<rect x="410.90" y="304.60" width="13.45" height="13.50"/>
<rect x="410.90" y="319.80" width="13.45" height="13.50"/>
<rect x="410.90" y="334.90" width="13.45" height="13.50"/>
<rect x="410.90" y="350.00" width="13.45" height="13.50"/>
<rect x="410.90" y="366.90" width="13.45" height="13.50"/>
<rect x="410.90" y="382.10" width="13.45" height="13.50"/>
<rect x="410.90" y="397.20" width="13.45" height="13.50"/>
<rect x="410.90" y="412.30" width="13.45" height="13.50"/>
<rect x="410.90" y="428.40" width="13.45" height="13.50"/>
<rect x="410.90" y="443.60" width="13.45" height="13.50"/>
<rect x="410.90" y="458.70" width="13.45" height="13.50"/>
<rect x="410.90" y="473.80" width="13.45" height="13.50"/>
<rect x="410.90" y="489.60" width="13.45" height="13.50"/>
<rect x="410.90" y="504.80" width="13.45" height="13.50"/>
<rect x="410.90" y="519.90" width="13.45" height="13.50"/>
<rect x="410.90" y="535.00" width="13.45" height="13.50"/>
<rect x="410.90" y="550.90" width="13.45" height="13.50"/>
<rect x="410.90" y="566.10" width="13.45" height="13.50"/>
<rect x="410.90" y="581.20" width="13.45" height="13.50"/>
<rect x="410.90" y="596.30" width="13.45" height="13.50"/>
<rect x="425.90" y="17.90" width="13.45" height="13.50"/>
<rect x="425.90" y="33.00" width="13.45" height="13.50"/>
<rect x="425.90" y="50.40" width="13.45" height="13.50"/>
<rect x="425.90" y="65.50" width="13.45" height="13.50"/>
<rect x="425.90" y="83.00" width="13.45" height="13.50"/>
<rect x="425.90" y="97.90" width="13.45" height="13.50"/>
<rect x="425.90" y="115.20" width="13.45" height="13.50"/>
<rect x="425.90" y="130.60" width="13.45" height="13.50"/>
<rect x="425.90" y="147.70" width="13.45" height="13.50"/>
<rect x="425.90" y="162.90" width="13.45" height="13.50"/>
<rect x="425.90" y="181.60" width="13.45" height="13.50"/>
<rect x="425.90" y="196.80" width="13.45" height="13.50"/>
<rect x="425.90" y="211.90" width="13.45" height="13.50"/>
<rect x="425.90" y="227.00" width="13.45" height="13.50"/>
<rect x="425.90" y="243.00" width="13.45" height="13.50"/>
<rect x="425.90" y="258.20" width="13.45" height="13.50"/>
<rect x="425.90" y="273.30" width="13.45" height="13.50"/>
<rect x="425.90" y="288.40" width="13.45" height="13.50"/>
<rect x="425.90" y="304.60" width="13.45" height="13.50"/>
<rect x="425.90" y="319.80" width="13.45" height="13.50"/>
<rect x="425.90" y="334.90" width="13.45" height="13.50"/>
<rect x="425.90" y="350.00" width="13.45" height="13.50"/>
<rect x="425.90" y="366.90" width="13.45" height="13.50"/>
<rect x="425.90" y="382.10" width="13.45" height="13.50"/>
<rect x="425.90" y="397.20" width="13.45" height="13.50"/>
<rect x="425.90" y="412.30" width="13.45" height="13.50"/>
<rect x="425.90" y="428.40" width="13.45" height="13.50"/>
<rect x="425.90" y="443.60" width="13.45" height="13.50"/>
<rect x="425.90" y="458.70" width="13.45" height="13.50"/>
<rect x="425.90" y="473.80" width="13.45" height="13.50"/>
<rect x="425.90" y="489.60" width="13.45" height="13.50"/>
<rect x="425.90" y="504.80" width="13.45" height="13.50"/>
<rect x="425.90" y="519.90" width="13.45" height="13.50"/>
<rect x="425.90" y="535.00" width="13.45" height="13.50"/>
<rect x="425.90" y="550.90" width="13.45" height="13.50"/>
<rect x="425.90" y="566.10" width="13.45" height="13.50"/>
<rect x="425.90" y="581.20" width="13.45" height="13.50"/>
<rect x="425.90" y="596.30" width="13.45" height="13.50"/>
<rect x="440.90" y="17.90" width="13.45" height="13.50"/>
<rect x="440.90" y="33.00" width="13.45" height="13.50"/>
<rect x="440.90" y="50.40" width="13.45" height="13.50"/>
<rect x="440.90" y="65.50" width="13.45" height="13.50"/>
<rect x="440.90" y="83.00" width="13.45" height="13.50"/>
<rect x="440.90" y="97.90" width="13.45" height="13.50"/>
<rect x="440.90" y="115.20" width="13.45" height="13.50"/>
<rect x="440.90" y="130.60" width="13.45" height="13.50"/>
<rect x="440.90" y="147.70" width="13.45" height="13.50"/>
<rect x="440.90" y="162.90" width="13.45" height="13.50"/>
<rect x="440.90" y="181.60" width="13.45" height="13.50"/>
<rect x="440.90" y="196.80" width="13.45" height="13.50"/>
<rect x="440.90" y="211.90" width="13.45" height="13.50"/>
<rect x="440.90" y="227.00" width="13.45" height="13.50"/>
<rect x="440.90" y="243.00" width="13.45" height="13.50"/>
<rect x="440.90" y="258.20" width="13.45" height="13.50"/>
<rect x="440.90" y="273.30" width="13.45" height="13.50"/>
<rect x="440.90" y="288.40" width="13.45" height="13.50"/>
<rect x="440.90" y="304.60" width="13.45" height="13.50"/>
<rect x="440.90" y="319.80" width="13.45" height="13.50"/>
<rect x="440.90" y="334.90" width="13.45" height="13.50"/>
<rect x="440.90" y="350.00" width="13.45" height="13.50"/>
<rect x="440.90" y="366.90" width="13.45" height="13.50"/>
<rect x="440.90" y="382.10" width="13.45" height="13.50"/>
<rect x="440.90" y="397.20" width="13.45" height="13.50"/>
<rect x="440.90" y="412.30" width="13.45" height="13.50"/>
<rect x="440.90" y="428.40" width="13.45" height="13.50"/>
<rect x="440.90" y="443.60" width="13.45" height="13.50"/>
<rect x="440.90" y="458.70" width="13.45" height="13.50"/>
<rect x="440.90" y="473.80" width="13.45" height="13.50"/>
<rect x="440.90" y="489.60" width="13.45" height="13.50"/>
<rect x="440.90" y="504.80" width="13.45" height="13.50"/>
<rect x="440.90" y="519.90" width="13.45" height="13.50"/>
<rect x="440.90" y="535.00" width="13.45" height="13.50"/>
<rect x="440.90" y="550.90" width="13.45" height="13.50"/>
<rect x="440.90" y="566.10" width="13.45" height="13.50"/>
<rect x="440.90" y="581.20" width="13.45" height="13.50"/>
<rect x="440.90" y="596.30" width="13.45" height="13.50"/>
<rect x="456.00" y="17.90" width="13.45" height="13.50"/>
<rect x="456.00" y="33.00" width="13.45" height="13.50"/>
<rect x="456.00" y="50.40" width="13.45" height="13.50"/>
<rect x="456.00" y="65.50" width="13.45" height="13.50"/>
<rect x="456.00" y="83.00" width="13.45" height="13.50"/>
<rect x="456.00" y="97.90" width="13.45" height="13.50"/>
<rect x="456.00" y="115.20" width="13.45" height="13.50"/>
<rect x="456.00" y="130.60" width="13.45" height="13.50"/>
<rect x="456.00" y="147.70" width="13.45" height="13.50"/>
<rect x="456.00" y="162.90" width="13.45" height="13.50"/>
<rect x="456.00" y="181.60" width="13.45" height="13.50"/>
<rect x="456.00" y="196.80" width="13.45" height="13.50"/>
<rect x="456.00" y="211.90" width="13.45" height="13.50"/>
<rect x="456.00" y="227.00" width="13.45" height="13.50"/>
<rect x="456.00" y="243.00" width="13.45" height="13.50"/>
<rect x="456.00" y="258.20" width="13.45" height="13.50"/>
<rect x="456.00" y="273.30" width="13.45" height="13.50"/>
<rect x="456.00" y="288.40" width="13.45" height="13.50"/>
<rect x="456.00" y="304.60" width="13.45" height="13.50"/>
<rect x="456.00" y="319.80" width="13.45" height="13.50"/>
<rect x="456.00" y="334.90" width="13.45" height="13.50"/>
<rect x="456.00" y="350.00" width="13.45" height="13.50"/>
<rect x="456.00" y="366.90" width="13.45" height="13.50"/>
<rect x="456.00" y="382.10" width="13.45" height="13.50"/>
<rect x="456.00" y="397.20" width="13.45" height="13.50"/>
<rect x="456.00" y="412.30" width="13.45" height="13.50"/>
<rect x="456.00" y="428.40" width="13.45" height="13.50"/>
<rect x="456.00" y="443.60" width="13.45" height="13.50"/>
<rect x="456.00" y="458.70" width="13.45" height="13.50"/>
<rect x="456.00" y="473.80" width="13.45" height="13.50"/>
<rect x="456.00" y="489.60" width="13.45" height="13.50"/>
<rect x="456.00" y="504.80" width="13.45" height="13.50"/>
<rect x="456.00" y="519.90" width="13.45" height="13.50"/>
<rect x="456.00" y="535.00" width="13.45" height="13.50"/>
<rect x="456.00" y="550.90" width="13.45" height="13.50"/>
<rect x="456.00" y="566.10" width="13.45" height="13.50"/>
<rect x="456.00" y="581.20" width="13.45" height="13.50"/>
<rect x="456.00" y="596.30" width="13.45" height="13.50"/>
<rect x="472.60" y="17.90" width="13.45" height="13.50"/>
<rect x="472.60" y="33.00" width="13.45" height="13.50"/>
<rect x="472.60" y="50.40" width="13.45" height="13.50"/>
<rect x="472.60" y="65.50" width="13.45" height="13.50"/>
<rect x="472.60" y="83.00" width="13.45" height="13.50"/>
<rect x="472.60" y="97.90" width="13.45" height="13.50"/>
<rect x="472.60" y="115.20" width="13.45" height="13.50"/>
<rect x="472.60" y="130.60" width="13.45" height="13.50"/>
<rect x="472.60" y="147.70" width="13.45" height="13.50"/>
<rect x="472.60" y="162.90" width="13.45" height="13.50"/>
<rect x="472.60" y="181.60" width="13.45" height="13.50"/>
<rect x="472.60" y="196.80" width="13.45" height="13.50"/>
<rect x="472.60" y="211.90" width="13.45" height="13.50"/>
<rect x="472.60" y="227.00" width="13.45" height="13.50"/>
<rect x="472.60" y="243.00" width="13.45" height="13.50"/>
<rect x="472.60" y="258.20" width="13.45" height="13.50"/>
<rect x="472.60" y="273.30" width="13.45" height="13.50"/>
<rect x="472.60" y="288.40" width="13.45" height="13.50"/>
<rect x="472.60" y="304.60" width="13.45" height="13.50"/>
<rect x="472.60" y="319.80" width="13.45" height="13.50"/>
<rect x="472.60" y="334.90" width="13.45" height="13.50"/>
<rect x="472.60" y="350.00" width="13.45" height="13.50"/>
<rect x="472.60" y="366.90" width="13.45" height="13.50"/>
<rect x="472.60" y="382.10" width="13.45" height="13.50"/>
<rect x="472.60" y="397.20" width="13.45" height="13.50"/>
<rect x="472.60" y="412.30" width="13.45" height="13.50"/>
<rect x="472.60" y="428.40" width="13.45" height="13.50"/>
<rect x="472.60" y="443.60" width="13.45" height="13.50"/>
<rect x="472.60" y="489.60" width="13.45" height="13.50"/>
<rect x="472.60" y="504.80" width="13.45" height="13.50"/>
<rect x="472.60" y="519.90" width="13.45" height="13.50"/>
<rect x="472.60" y="535.00" width="13.45" height="13.50"/>
<rect x="472.60" y="550.90" width="13.45" height="13.50"/>
<rect x="472.60" y="566.10" width="13.45" height="13.50"/>
<rect x="472.60" y="581.20" width="13.45" height="13.50"/>
<rect x="472.60" y="596.30" width="13.45" height="13.50"/>
<rect x="487.60" y="17.90" width="13.45" height="13.50"/>
<rect x="487.60" y="33.00" width="13.45" height="13.50"/>
<rect x="487.60" y="50.40" width="13.45" height="13.50"/>
<rect x="487.60" y="65.50" width="13.45" height="13.50"/>
<rect x="487.60" y="83.00" width="13.45" height="13.50"/>
<rect x="487.60" y="97.90" width="13.45" height="13.50"/>
<rect x="487.60" y="115.20" width="13.45" height="13.50"/>
<rect x="487.60" y="130.60" width="13.45" height="13.50"/>
<rect x="487.60" y="147.70" width="13.45" height="13.50"/>
<rect x="487.60" y="162.90" width="13.45" height="13.50"/>
<rect x="487.60" y="181.60" width="13.45" height="13.50"/>
<rect x="487.60" y="196.80" width="13.45" height="13.50"/>
<rect x="487.60" y="211.90" width="13.45" height="13.50"/>
<rect x="487.60" y="227.00" width="13.45" height="13.50"/>
<rect x="487.60" y="243.00" width="13.45" height="13.50"/>
<rect x="487.60" y="258.20" width="13.45" height="13.50"/>
<rect x="487.60" y="273.30" width="13.45" height="13.50"/>
<rect x="487.60" y="288.40" width="13.45" height="13.50"/>
<rect x="487.60" y="304.60" width="13.45" height="13.50"/>
<rect x="487.60" y="319.80" width="13.45" height="13.50"/>
<rect x="487.60" y="334.90" width="13.45" height="13.50"/>
<rect x="487.60" y="350.00" width="13.45" height="13.50"/>
<rect x="487.60" y="366.90" width="13.45" height="13.50"/>
<rect x="487.60" y="382.10" width="13.45" height="13.50"/>
<rect x="487.60" y="397.20" width="13.45" height="13.50"/>
<rect x="487.60" y="412.30" width="13.45" height="13.50"/>
<rect x="487.60" y="428.40" width="13.45" height="13.50"/>
<rect x="487.60" y="443.60" width="13.45" height="13.50"/>
<rect x="487.60" y="458.70" width="13.45" height="13.50"/>
<rect x="487.60" y="473.80" width="13.45" height="13.50"/>
<rect x="487.60" y="489.60" width="13.45" height="13.50"/>
<rect x="487.60" y="504.80" width="13.45" height="13.50"/>
<rect x="487.60" y="519.90" width="13.45" height="13.50"/>
<rect x="487.60" y="535.00" width="13.45" height="13.50"/>
<rect x="487.60" y="550.90" width="13.45" height="13.50"/>
<rect x="487.60" y="566.10" width="13.45" height="13.50"/>
<rect x="487.60" y="581.20" width="13.45" height="13.50"/>
<rect x="487.60" y="596.30" width="13.45" height="13.50"/>
<rect x="502.70" y="17.90" width="13.45" height="13.50"/>
<rect x="502.70" y="33.00" width="13.45" height="13.50"/>
<rect x="502.70" y="50.40" width="13.45" height="13.50"/>
<rect x="502.70" y="65.50" width="13.45" height="13.50"/>
<rect x="502.70" y="83.00" width="13.45" height="13.50"/>
<rect x="502.70" y="97.90" width="13.45" height="13.50"/>
<rect x="502.70" y="115.20" width="13.45" height="13.50"/>
<rect x="502.70" y="130.60" width="13.45" height="13.50"/>
<rect x="502.70" y="147.70" width="13.45" height="13.50"/>
<rect x="502.70" y="162.90" width="13.45" height="13.50"/>
<rect x="502.70" y="181.60" width="13.45" height="13.50"/>
<rect x="502.70" y="196.80" width="13.45" height="13.50"/>
<rect x="502.70" y="211.90" width="13.45" height="13.50"/>
<rect x="502.70" y="227.00" width="13.45" height="13.50"/>
<rect x="502.70" y="243.00" width="13.45" height="13.50"/>
<rect x="502.70" y="258.20" width="13.45" height="13.50"/>
<rect x="502.70" y="273.30" width="13.45" height="13.50"/>
<rect x="502.70" y="288.40" width="13.45" height="13.50"/>
<rect x="502.70" y="304.60" width="13.45" height="13.50"/>
<rect x="502.70" y="319.80" width="13.45" height="13.50"/>
<rect x="502.70" y="334.90" width="13.45" height="13.50"/>
<rect x="502.70" y="350.00" width="13.45" height="13.50"/>
<rect x="502.70" y="366.90" width="13.45" height="13.50"/>
<rect x="502.70" y="382.10" width="13.45" height="13.50"/>
<rect x="502.70" y="397.20" width="13.45" height="13.50"/>
<rect x="502.70" y="412.30" width="13.45" height="13.50"/>
<rect x="502.70" y="428.40" width="13.45" height="13.50"/>
<rect x="502.70" y="443.60" width="13.45" height="13.50"/>
<rect x="502.70" y="489.60" width="13.45" height="13.50"/>
<rect x="502.70" y="504.80" width="13.45" height="13.50"/>
<rect x="502.70" y="519.90" width="13.45" height="13.50"/>
<rect x="502.70" y="535.00" width="13.45" height="13.50"/>
<rect x="502.70" y="550.90" width="13.45" height="13.50"/>
<rect x="502.70" y="566.10" width="13.45" height="13.50"/>
<rect x="502.70" y="581.20" width="13.45" height="13.50"/>
<rect x="502.70" y="596.30" width="13.45" height="13.50"/>
<rect x="517.80" y="17.90" width="13.45" height="13.50"/>
<rect x="517.80" y="33.00" width="13.45" height="13.50"/>
<rect x="517.80" y="83.00" width="13.45" height="13.50"/>
<rect x="517.80" y="97.90" width="13.45" height="13.50"/>
<rect x="517.80" y="115.20" width="13.45" height="13.50"/>
<rect x="517.80" y="130.60" width="13.45" height="13.50"/>
<rect x="517.80" y="147.70" width="13.45" height="13.50"/>
<rect x="517.80" y="162.90" width="13.45" height="13.50"/>
<rect x="517.80" y="181.60" width="13.45" height="13.50"/>
<rect x="517.80" y="196.80" width="13.45" height="13.50"/>
<rect x="517.80" y="211.90" width="13.45" height="13.50"/>
<rect x="517.80" y="227.00" width="13.45" height="13.50"/>
<rect x="517.80" y="243.00" width="13.45" height="13.50"/>
<rect x="517.80" y="258.20" width="13.45" height="13.50"/>
<rect x="517.80" y="273.30" width="13.45" height="13.50"/>
<rect x="517.80" y="288.40" width="13.45" height="13.50"/>
<rect x="517.80" y="304.60" width="13.45" height="13.50"/>
<rect x="517.80" y="319.80" width="13.45" height="13.50"/>
<rect x="517.80" y="334.90" width="13.45" height="13.50"/>
<rect x="517.80" y="350.00" width="13.45" height="13.50"/>
<rect x="517.80" y="366.90" width="13.45" height="13.50"/>
<rect x="517.80" y="382.10" width="13.45" height="13.50"/>
<rect x="517.80" y="397.20" width="13.45" height="13.50"/>
<rect x="517.80" y="412.30" width="13.45" height="13.50"/>
<rect x="517.80" y="428.40" width="13.45" height="13.50"/>
<rect x="517.80" y="443.60" width="13.45" height="13.50"/>
<rect x="517.80" y="489.60" width="13.45" height="13.50"/>
<rect x="517.80" y="504.80" width="13.45" height="13.50"/>
<rect x="517.80" y="519.90" width="13.45" height="13.50"/>
<rect x="517.80" y="535.00" width="13.45" height="13.50"/>
<rect x="517.80" y="550.90" width="13.45" height="13.50"/>
<rect x="517.80" y="566.10" width="13.45" height="13.50"/>
<rect x="517.80" y="581.20" width="13.45" height="13.50"/>
<rect x="517.80" y="596.30" width="13.45" height="13.50"/>
</g>
<g fill="#111">
<rect x="241.40" y="16.50" width="7.80" height="2.10"/>
<rect x="241.40" y="174.80" width="7.80" height="2.20"/>
<rect x="276.10" y="16.50" width="7.80" height="2.10"/>
<rect x="276.10" y="174.80" width="7.80" height="2.20"/>
<rect x="310.80" y="16.50" width="7.80" height="2.10"/>
<rect x="310.80" y="174.80" width="7.80" height="2.20"/>
<rect x="213.60" y="44.50" width="2.10" height="7.60"/>
<rect x="344.00" y="44.50" width="2.10" height="7.60"/>
<rect x="213.60" y="76.90" width="2.10" height="7.60"/>
<rect x="344.00" y="76.90" width="2.10" height="7.60"/>
<rect x="213.60" y="113.20" width="2.10" height="7.60"/>
<rect x="344.00" y="113.20" width="2.10" height="7.60"/>
<rect x="213.60" y="141.80" width="2.10" height="7.60"/>
<rect x="344.00" y="141.80" width="2.10" height="7.60"/>
<rect x="276.00" y="612.80" width="8.20" height="2.30"/>
</g>
<text x="562.90" y="18.82" font-size="9.50" text-anchor="middle" fill="#1a1a1a" class="w6">一条大路</text>
<text x="563.90" y="34.32" font-size="8.40" text-anchor="middle" fill="#1a1a1a" class="w5">正親町小路</text>
<text x="562.90" y="50.42" font-size="9.50" text-anchor="middle" fill="#1a1a1a" class="w6">土御門大路</text>
<text x="564.20" y="66.62" font-size="8.40" text-anchor="middle" fill="#1a1a1a" class="w5">鷹司小路</text>
<text x="562.90" y="84.82" font-size="9.50" text-anchor="middle" fill="#1a1a1a" class="w6">近衛御門大路</text>
<text x="563.90" y="100.42" font-size="8.40" text-anchor="middle" fill="#1a1a1a" class="w5">勘解由小路</text>
<text x="562.90" y="116.62" font-size="9.50" text-anchor="middle" fill="#1a1a1a" class="w6">中御門大路</text>
<text x="564.20" y="132.32" font-size="8.40" text-anchor="middle" fill="#1a1a1a" class="w5">春日小路</text>
<text x="562.90" y="148.72" font-size="9.50" text-anchor="middle" fill="#1a1a1a" class="w6">大炊御門大路</text>
<text x="564.20" y="164.42" font-size="8.40" text-anchor="middle" fill="#1a1a1a" class="w5">冷泉小路</text>
<text x="562.90" y="183.12" font-size="9.50" text-anchor="middle" fill="#1a1a1a" class="w6">二条大路</text>
<text x="564.60" y="201.42" font-size="8.40" text-anchor="middle" fill="#1a1a1a" class="w5">押小路</text>
<text x="563.50" y="215.02" font-size="8.40" text-anchor="middle" fill="#1a1a1a" class="w5">三条坊門小路</text>
<text x="564.60" y="228.92" font-size="8.40" text-anchor="middle" fill="#1a1a1a" class="w5">姉小路</text>
<text x="562.90" y="244.92" font-size="9.50" text-anchor="middle" fill="#1a1a1a" class="w6">三条大路</text>
<text x="564.20" y="262.72" font-size="8.40" text-anchor="middle" fill="#1a1a1a" class="w5">六角小路</text>
<text x="563.50" y="276.62" font-size="8.40" text-anchor="middle" fill="#1a1a1a" class="w5">四条坊門小路</text>
<text x="564.60" y="289.62" font-size="8.40" text-anchor="middle" fill="#1a1a1a" class="w5">錦小路</text>
<text x="562.90" y="305.62" font-size="9.50" text-anchor="middle" fill="#1a1a1a" class="w6">四条大路</text>
<text x="564.60" y="324.02" font-size="8.40" text-anchor="middle" fill="#1a1a1a" class="w5">綾小路</text>
<text x="563.50" y="337.92" font-size="8.40" text-anchor="middle" fill="#1a1a1a" class="w5">五条坊門小路</text>
<text x="564.20" y="351.42" font-size="8.40" text-anchor="middle" fill="#1a1a1a" class="w5">高辻小路</text>
<text x="562.90" y="367.42" font-size="9.50" text-anchor="middle" fill="#1a1a1a" class="w6">五条大路</text>
<text x="564.20" y="385.62" font-size="8.40" text-anchor="middle" fill="#1a1a1a" class="w5">樋口小路</text>
<text x="563.50" y="399.12" font-size="8.40" text-anchor="middle" fill="#1a1a1a" class="w5">六条坊門小路</text>
<text x="564.20" y="413.12" font-size="8.40" text-anchor="middle" fill="#1a1a1a" class="w5">楊梅小路</text>
<text x="562.90" y="428.92" font-size="9.50" text-anchor="middle" fill="#1a1a1a" class="w6">六条大路</text>
<text x="563.90" y="447.02" font-size="8.40" text-anchor="middle" fill="#1a1a1a" class="w5">左女牛小路</text>
<text x="563.50" y="460.62" font-size="8.40" text-anchor="middle" fill="#1a1a1a" class="w5">七条坊門小路</text>
<text x="564.60" y="474.52" font-size="8.40" text-anchor="middle" fill="#1a1a1a" class="w5">北小路</text>
<text x="562.90" y="492.92" font-size="9.50" text-anchor="middle" fill="#1a1a1a" class="w6">七条大路</text>
<text x="564.60" y="508.32" font-size="8.40" text-anchor="middle" fill="#1a1a1a" class="w5">塩小路</text>
<text x="563.50" y="522.32" font-size="8.40" text-anchor="middle" fill="#1a1a1a" class="w5">八条坊門小路</text>
<text x="564.60" y="536.12" font-size="8.40" text-anchor="middle" fill="#1a1a1a" class="w5">梅小路</text>
<text x="562.90" y="552.72" font-size="9.50" text-anchor="middle" fill="#1a1a1a" class="w6">八条大路</text>
<text x="564.60" y="568.22" font-size="8.40" text-anchor="middle" fill="#1a1a1a" class="w5">針小路</text>
<text x="563.50" y="582.12" font-size="8.40" text-anchor="middle" fill="#1a1a1a" class="w5">九条坊門小路</text>
<text x="564.20" y="595.72" font-size="8.40" text-anchor="middle" fill="#1a1a1a" class="w5">信濃小路</text>
<text x="562.90" y="615.42" font-size="9.50" text-anchor="middle" fill="#1a1a1a" class="w6">九条大路</text>
<text x="24.05" y="625.38" font-size="9.50" writing-mode="vertical-rl" fill="#1a1a1a" class="w6">西京極大路</text>
<text x="42.43" y="640.03" font-size="8.20" writing-mode="vertical-rl" fill="#1a1a1a" class="w5">無差小路</text>
<text x="57.93" y="648.23" font-size="8.20" writing-mode="vertical-rl" fill="#1a1a1a" class="w5">山小路</text>
<text x="74.18" y="640.03" font-size="8.20" writing-mode="vertical-rl" fill="#1a1a1a" class="w5">菖蒲小路</text>
<text x="88.30" y="634.88" font-size="9.50" writing-mode="vertical-rl" fill="#1a1a1a" class="w6">木辻大路</text>
<text x="103.43" y="631.83" font-size="8.20" writing-mode="vertical-rl" fill="#1a1a1a" class="w5">恵止利小路</text>
<text x="119.93" y="640.03" font-size="8.20" writing-mode="vertical-rl" fill="#1a1a1a" class="w5">馬代小路</text>
<text x="135.93" y="640.03" font-size="8.20" writing-mode="vertical-rl" fill="#1a1a1a" class="w5">宇多小路</text>
<text x="150.30" y="634.88" font-size="9.50" writing-mode="vertical-rl" fill="#1a1a1a" class="w6">道祖大路</text>
<text x="165.43" y="640.03" font-size="8.20" writing-mode="vertical-rl" fill="#1a1a1a" class="w5">野寺小路</text>
<text x="181.18" y="631.83" font-size="8.20" writing-mode="vertical-rl" fill="#1a1a1a" class="w5">西堀河小路</text>
<text x="197.18" y="631.83" font-size="8.20" writing-mode="vertical-rl" fill="#1a1a1a" class="w5">西靱負小路</text>
<text x="211.55" y="625.38" font-size="9.50" writing-mode="vertical-rl" fill="#1a1a1a" class="w6">西大宮大路</text>
<text x="229.18" y="631.83" font-size="8.20" writing-mode="vertical-rl" fill="#1a1a1a" class="w5">西櫛笥小路</text>
<text x="245.30" y="625.38" font-size="9.50" writing-mode="vertical-rl" fill="#1a1a1a" class="w6">皇嘉門大路</text>
<text x="261.68" y="631.83" font-size="8.20" writing-mode="vertical-rl" fill="#1a1a1a" class="w5">西坊城小路</text>
<text x="279.05" y="634.88" font-size="9.50" writing-mode="vertical-rl" fill="#1a1a1a" class="w6">朱雀大路</text>
<text x="297.93" y="640.03" font-size="8.20" writing-mode="vertical-rl" fill="#1a1a1a" class="w5">坊城小路</text>
<text x="314.55" y="634.88" font-size="9.50" writing-mode="vertical-rl" fill="#1a1a1a" class="w6">壬生大路</text>
<text x="329.18" y="640.03" font-size="8.20" writing-mode="vertical-rl" fill="#1a1a1a" class="w5">櫛笥小路</text>
<text x="346.05" y="634.88" font-size="9.50" writing-mode="vertical-rl" fill="#1a1a1a" class="w6">大宮大路</text>
<text x="361.68" y="640.03" font-size="8.20" writing-mode="vertical-rl" fill="#1a1a1a" class="w5">猪隈小路</text>
<text x="376.68" y="640.03" font-size="8.20" writing-mode="vertical-rl" fill="#1a1a1a" class="w5">堀河小路</text>
<text x="392.93" y="648.23" font-size="8.20" writing-mode="vertical-rl" fill="#1a1a1a" class="w5">油小路</text>
<text x="407.80" y="625.38" font-size="9.50" writing-mode="vertical-rl" fill="#1a1a1a" class="w6">西洞院大路</text>
<text x="423.43" y="640.03" font-size="8.20" writing-mode="vertical-rl" fill="#1a1a1a" class="w5">町尻小路</text>
<text x="439.18" y="640.03" font-size="8.20" writing-mode="vertical-rl" fill="#1a1a1a" class="w5">室町小路</text>
<text x="454.18" y="640.03" font-size="8.20" writing-mode="vertical-rl" fill="#1a1a1a" class="w5">烏丸小路</text>
<text x="471.55" y="625.38" font-size="9.50" writing-mode="vertical-rl" fill="#1a1a1a" class="w6">東洞院大路</text>
<text x="484.18" y="640.03" font-size="8.20" writing-mode="vertical-rl" fill="#1a1a1a" class="w5">高倉小路</text>
<text x="500.93" y="640.03" font-size="8.20" writing-mode="vertical-rl" fill="#1a1a1a" class="w5">万里小路</text>
<text x="515.93" y="648.23" font-size="8.20" writing-mode="vertical-rl" fill="#1a1a1a" class="w5">富小路</text>
<text x="530.30" y="625.38" font-size="9.50" writing-mode="vertical-rl" fill="#1a1a1a" class="w6">東京極大路</text>
<text x="280.00" y="626.58" font-size="9.40" text-anchor="middle" fill="#1a1a1a" class="w6">羅城門</text>
<text x="246.00" y="28.09" font-size="8.30" text-anchor="middle" fill="#0c1c3c" class="w6">安嘉門</text>
<text x="280.00" y="28.09" font-size="8.30" text-anchor="middle" fill="#0c1c3c" class="w6">偉鑒門</text>
<text x="314.40" y="28.09" font-size="8.30" text-anchor="middle" fill="#0c1c3c" class="w6">達智門</text>
<text x="246.40" y="171.39" font-size="8.30" text-anchor="middle" fill="#0c1c3c" class="w6">皇嘉門</text>
<text x="280.30" y="171.39" font-size="8.30" text-anchor="middle" fill="#0c1c3c" class="w6">朱雀門</text>
<text x="315.10" y="171.39" font-size="8.30" text-anchor="middle" fill="#0c1c3c" class="w6">美福門</text>
<text x="220.58" y="36.97" font-size="8.22" writing-mode="vertical-rl" fill="#0c1c3c" class="w6">上西門</text>
<text x="220.58" y="68.67" font-size="8.22" writing-mode="vertical-rl" fill="#0c1c3c" class="w6">殷富門</text>
<text x="220.58" y="102.97" font-size="8.22" writing-mode="vertical-rl" fill="#0c1c3c" class="w6">藻壁門</text>
<text x="220.58" y="132.37" font-size="8.22" writing-mode="vertical-rl" fill="#0c1c3c" class="w6">談天門</text>
<text x="337.48" y="36.97" font-size="8.22" writing-mode="vertical-rl" fill="#0c1c3c" class="w6">上東門</text>
<text x="337.48" y="68.67" font-size="8.22" writing-mode="vertical-rl" fill="#0c1c3c" class="w6">陽明門</text>
<text x="337.48" y="102.97" font-size="8.22" writing-mode="vertical-rl" fill="#0c1c3c" class="w6">待賢門</text>
<text x="337.48" y="132.37" font-size="8.22" writing-mode="vertical-rl" fill="#0c1c3c" class="w6">郁芳門</text>
<text x="278.24" y="74.72" font-size="14.62" writing-mode="vertical-rl" fill="#0c1c3c" class="w5">大内裏</text>
<text x="329.51" y="189.10" font-size="14.90" writing-mode="vertical-rl" fill="#0c1c3c" class="w5">神泉苑</text>
<text x="260.37" y="251.43" font-size="14.30" writing-mode="vertical-rl" fill="#0c1c3c" class="w5">朱雀院</text>
<text x="297.98" y="183.67" font-size="8.15" writing-mode="vertical-rl" fill="#0c1c3c" class="w6">大学寮</text>
<text x="334.77" y="248.97" font-size="8.28" writing-mode="vertical-rl" fill="#0c1c3c" class="w6">四条</text>
<text x="323.87" y="248.97" font-size="8.28" writing-mode="vertical-rl" fill="#0c1c3c" class="w6">後院</text>
<text x="164.84" y="274.66" font-size="8.56" writing-mode="vertical-rl" fill="#0c1c3c" class="w6">淳和院</text>
<text x="103.91" y="19.66" font-size="8.39" writing-mode="vertical-rl" fill="#0c1c3c" class="w6">宇多院</text>
<text x="392.75" y="116.66" font-size="8.46" writing-mode="vertical-rl" fill="#0c1c3c" class="w6">高陽院</text>
<text x="362.86" y="149.36" font-size="8.42" writing-mode="vertical-rl" fill="#0c1c3c" class="w6">冷泉院</text>
<text x="195.01" y="461.31" font-size="10.94" writing-mode="vertical-rl" fill="#0c1c3c" class="w6">西市</text>
<text x="362.55" y="460.54" font-size="11.46" writing-mode="vertical-rl" fill="#0c1c3c" class="w6">東市</text>
<text x="515.58" y="458.83" font-size="9.25" writing-mode="vertical-rl" fill="#0c1c3c" class="w6">河原院</text>
<text x="228.39" y="584.56" font-size="11.07" writing-mode="vertical-rl" fill="#0c1c3c" class="w6">西寺</text>
<text x="330.14" y="584.56" font-size="11.07" writing-mode="vertical-rl" fill="#0c1c3c" class="w6">東寺</text>
</svg>
</body>
</html>
